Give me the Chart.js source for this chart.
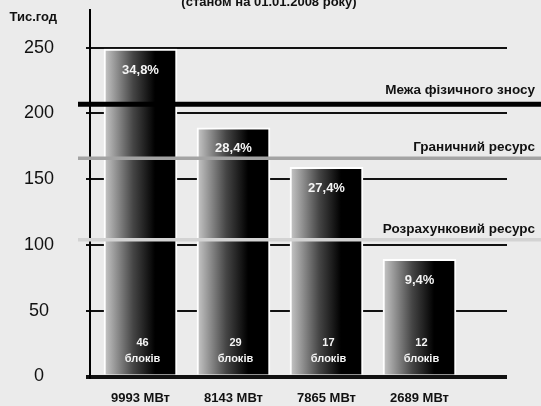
<!DOCTYPE html>
<html>
<head>
<meta charset="utf-8">
<script src="https://cdn.jsdelivr.net/npm/chart.js@4/dist/chart.umd.min.js"></script>
<style>
html,body{margin:0;padding:0;background:#ebebeb;}
#wrap{width:541px;height:406px;position:relative;}
</style>
</head>
<body>
<div id="wrap"><canvas id="c" width="541" height="406"></canvas></div>
<script>
// ---- data ----
const categories = ['9993 МВт', '8143 МВт', '7865 МВт', '2689 МВт'];
const hours = [249, 189, 159, 89];           // тис. год
const shares = ['34,8%', '28,4%', '27,4%', '9,4%'];
const units = [46, 29, 17, 12];
const unitWord = 'блоків';
const yTicks = [0, 50, 100, 150, 200, 250];
const refValues = [207, 166, 104];
const refLabels = ['Межа фізичного зносу', 'Граничний ресурс', 'Розрахунковий ресурс'];
const titleText = '(станом на 01.01.2008 року)';
const yUnit = 'Тис.год';

// ---- styles ----
const FONT = '"Liberation Sans", Arial, sans-serif';
const refStyles = [
  {color: '#000000', width: 5, gap: 8},
  {color: '#a3a3a3', width: 3.5, gap: 5},
  {color: '#d3d3d3', width: 3.5, gap: 5}
];

const overlay = {
  id: 'overlay',
  afterDatasetsDraw(chart) {
    const {ctx, scales: {x, y}} = chart;
    ctx.save();
    // labels inside bars
    ctx.fillStyle = '#f4f4f4';
    ctx.textAlign = 'center';
    ctx.textBaseline = 'middle';
    hours.forEach((v, i) => {
      const px = x.getPixelForValue(i);
      ctx.font = 'bold 13px ' + FONT;
      ctx.fillText(shares[i], px, y.getPixelForValue(v) + 21);
      ctx.font = 'bold 11px ' + FONT;
      ctx.fillText(String(units[i]), px + 2, y.getPixelForValue(0) - 34);
      ctx.fillText(unitWord, px + 2, y.getPixelForValue(0) - 18);
    });
    // reference lines
    refValues.forEach((v, i) => {
      const s = refStyles[i];
      const py = y.getPixelForValue(v);
      ctx.strokeStyle = s.color;
      ctx.lineWidth = s.width;
      ctx.beginPath();
      ctx.moveTo(78, py);
      ctx.lineTo(chart.width, py);
      ctx.stroke();
      ctx.fillStyle = '#111';
      ctx.font = 'bold 13.5px ' + FONT;
      ctx.textAlign = 'right';
      ctx.textBaseline = 'alphabetic';
      ctx.fillText(refLabels[i], 535, py - s.width / 2 - s.gap);
    });
    // title (cut at the top) and unit label
    ctx.fillStyle = '#111';
    ctx.textAlign = 'center';
    ctx.font = 'bold 13px ' + FONT;
    ctx.fillText(titleText, 269, 6);
    ctx.textAlign = 'left';
    ctx.fillText(yUnit, 9.5, 21);
    ctx.restore();
  }
};

function barGradient(context) {
  const chart = context.chart;
  if (!chart.chartArea || context.dataIndex === undefined) return '#444';
  const px = chart.scales.x.getPixelForValue(context.dataIndex);
  const g = chart.ctx.createLinearGradient(px - 36.5, 0, px + 36.5, 0);
  g.addColorStop(0, '#c8c8c8');
  g.addColorStop(0.4, '#454545');
  g.addColorStop(0.7, '#000000');
  g.addColorStop(1, '#000000');
  return g;
}

new Chart(document.getElementById('c'), {
  type: 'bar',
  data: {
    datasets: [{
      data: hours.map((v, i) => ({x: i, y: v})),
      backgroundColor: barGradient,
      borderColor: '#ffffff',
      borderWidth: 2,
      barThickness: 73
    }]
  },
  options: {
    responsive: false,
    animation: false,
    layout: {autoPadding: false, padding: {top: 9.5, right: 34, left: 0, bottom: 0}},
    plugins: {legend: {display: false}, tooltip: {enabled: false}, title: {display: false}},
    scales: {
      x: {
        type: 'linear',
        offset: false,
        min: -0.543,
        max: 3.941,
        afterBuildTicks: s => { s.ticks = categories.map((c, i) => ({value: i})); },
        afterFit: s => { s.height = 29.5; s.paddingLeft = 0; s.paddingRight = 0; },
        grid: {display: false, drawTicks: false, offset: false},
        border: {display: false},
        ticks: {
          padding: 14,
          maxRotation: 0,
          minRotation: 0,
          autoSkip: false,
          color: '#111',
          font: {family: FONT, size: 13, weight: 'bold'},
          callback: v => categories[v] ?? ''
        }
      },
      y: {
        min: 0,
        max: 279,
        afterBuildTicks: s => { s.ticks = yTicks.map(v => ({value: v})); },
        afterFit: s => { s.width = 90; s.paddingTop = 0; s.paddingBottom = 0; },
        grid: {
          color: '#111',
          lineWidth: c => (c.tick && c.tick.value === 0 ? 4 : 2),
          tickLength: 4
        },
        border: {display: true, color: '#000', width: 2},
        ticks: {
          crossAlign: 'center',
          padding: 32,
          color: '#111',
          font: {family: FONT, size: 18}
        }
      }
    }
  },
  plugins: [overlay]
});
</script>
</body>
</html>
